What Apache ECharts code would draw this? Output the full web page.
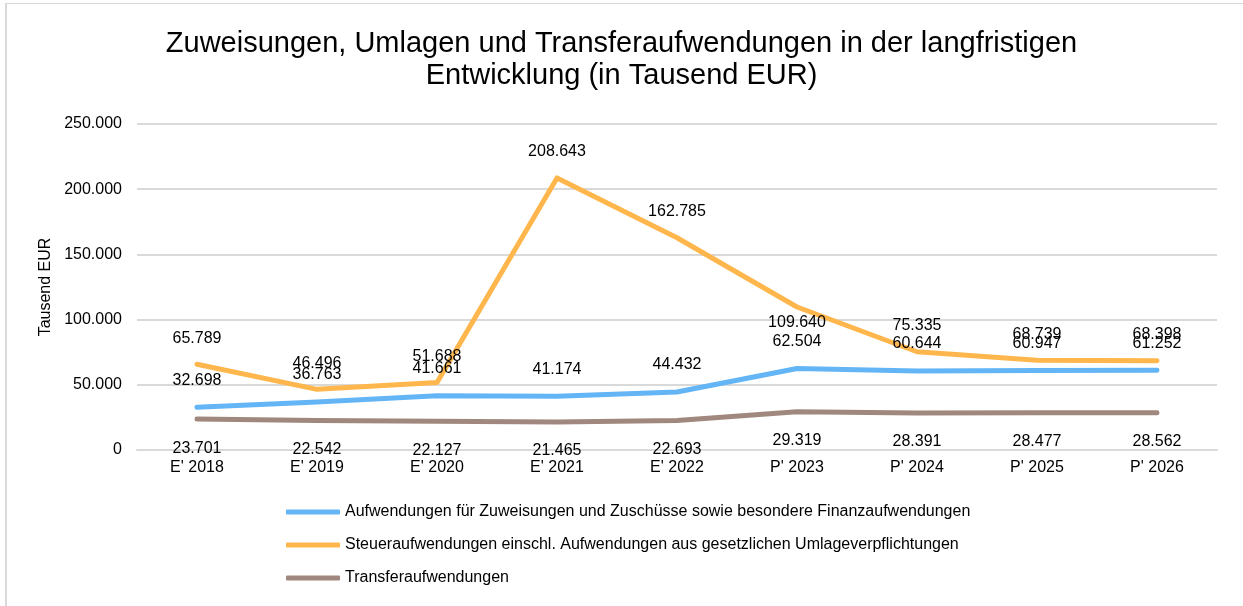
<!DOCTYPE html>
<html>
<head>
<meta charset="UTF-8">
<title>Zuweisungen, Umlagen und Transferaufwendungen</title>
<script src="https://cdn.jsdelivr.net/npm/echarts@6/dist/echarts.min.js"></script>
<style>
  html, body { margin: 0; padding: 0; background: #fff; }
  #frame { position: absolute; left: 5px; top: 3px; width: 1300px; height: 700px;
           border-left: 2px solid #d9d9d9; border-top: 1px solid #d9d9d9; }
  #main { position: absolute; left: 0; top: 0; width: 1243px; height: 606px; }
</style>
</head>
<body>
<div id="frame"></div>
<div id="main"></div>
<script>
// Jahre (E' = Ergebnis, P' = Plan)
var categories = ["E' 2018", "E' 2019", "E' 2020", "E' 2021", "E' 2022", "P' 2023", "P' 2024", "P' 2025", "P' 2026"];

// Werte in Tausend EUR
var zuweisungen = [32698, 36763, 41661, 41174, 44432, 62504, 60644, 60947, 61252];
var steuer      = [65789, 46496, 51688, 208643, 162785, 109640, 75335, 68739, 68398];
var transfer    = [23701, 22542, 22127, 21465, 22693, 29319, 28391, 28477, 28562];

var seriesNames = [
  'Aufwendungen für Zuweisungen und Zuschüsse sowie besondere Finanzaufwendungen',
  'Steueraufwendungen einschl. Aufwendungen aus gesetzlichen Umlageverpflichtungen',
  'Transferaufwendungen'
];

var yTicks = [0, 50000, 100000, 150000, 200000, 250000];

function fmt(v) {
  return v === 0 ? '0' : v.toLocaleString('de-DE');
}

var myChart = echarts.init(document.getElementById('main'));

// Label fuer P' 2023 (Steuer) sitzt im Original unter dem Punkt
var steuerData = steuer.map(function (v, i) {
  if (i === 5) {
    return { value: v, label: { position: 'bottom', distance: 8 } };
  }
  return v;
});

var font = 'Liberation Sans, Arial, sans-serif';

var labelStyle = { show: true, color: '#000', fontSize: 16, fontFamily: font,
                   formatter: function (p) { return fmt(p.value); } };

function lineSeries(name, data, color, pos, dist) {
  return {
    name: name,
    type: 'line',
    data: data,
    symbol: 'circle',
    symbolSize: 0,
    lineStyle: { width: 5, color: color, cap: 'round', join: 'round' },
    itemStyle: { color: color },
    label: Object.assign({}, labelStyle, { position: pos, distance: dist }),
    emphasis: { disabled: true },
    z: 2
  };
}

var option = {
  animation: false,
  title: {
    text: 'Zuweisungen, Umlagen und Transferaufwendungen in der langfristigen\nEntwicklung (in Tausend EUR)',
    left: 'center',
    top: 23,
    textStyle: { fontSize: 29, fontWeight: 'normal', color: '#000', lineHeight: 32, fontFamily: font, align: 'center' }
  },
  grid: { left: 137, right: 26, top: 124, bottom: 156, containLabel: false },
  legend: {
    orient: 'vertical',
    left: 281,
    top: 499,
    itemWidth: 54,
    itemHeight: 5,
    itemGap: 17,
    icon: 'roundRect',
    textStyle: { fontSize: 16, color: '#000', fontFamily: font },
    data: seriesNames
  },
  xAxis: {
    type: 'category',
    data: categories,
    boundaryGap: true,
    axisLine: { show: true, lineStyle: { color: '#d9d9d9', width: 2 } },
    axisTick: { show: false },
    axisLabel: { color: '#000', fontSize: 16, margin: 10, fontFamily: font }
  },
  yAxis: {
    type: 'value',
    min: yTicks[0],
    max: yTicks[yTicks.length - 1],
    interval: 50000,
    name: 'Tausend EUR',
    nameLocation: 'middle',
    nameGap: 78,
    nameTextStyle: { color: '#000', fontSize: 16, fontFamily: font },
    axisLine: { show: false },
    axisTick: { show: false },
    splitLine: { lineStyle: { color: '#d9d9d9', width: 2 } },
    axisLabel: { color: '#000', fontSize: 16, margin: 15, fontFamily: font,
                 formatter: function (v) { return fmt(v); } }
  },
  series: [
    lineSeries(seriesNames[0], zuweisungen, '#64B5F6', 'top', 19),
    lineSeries(seriesNames[1], steuerData, '#FFB74D', 'top', 18),
    lineSeries(seriesNames[2], transfer, '#A1887F', 'bottom', 21)
  ]
};

myChart.setOption(option);
</script>
</body>
</html>
